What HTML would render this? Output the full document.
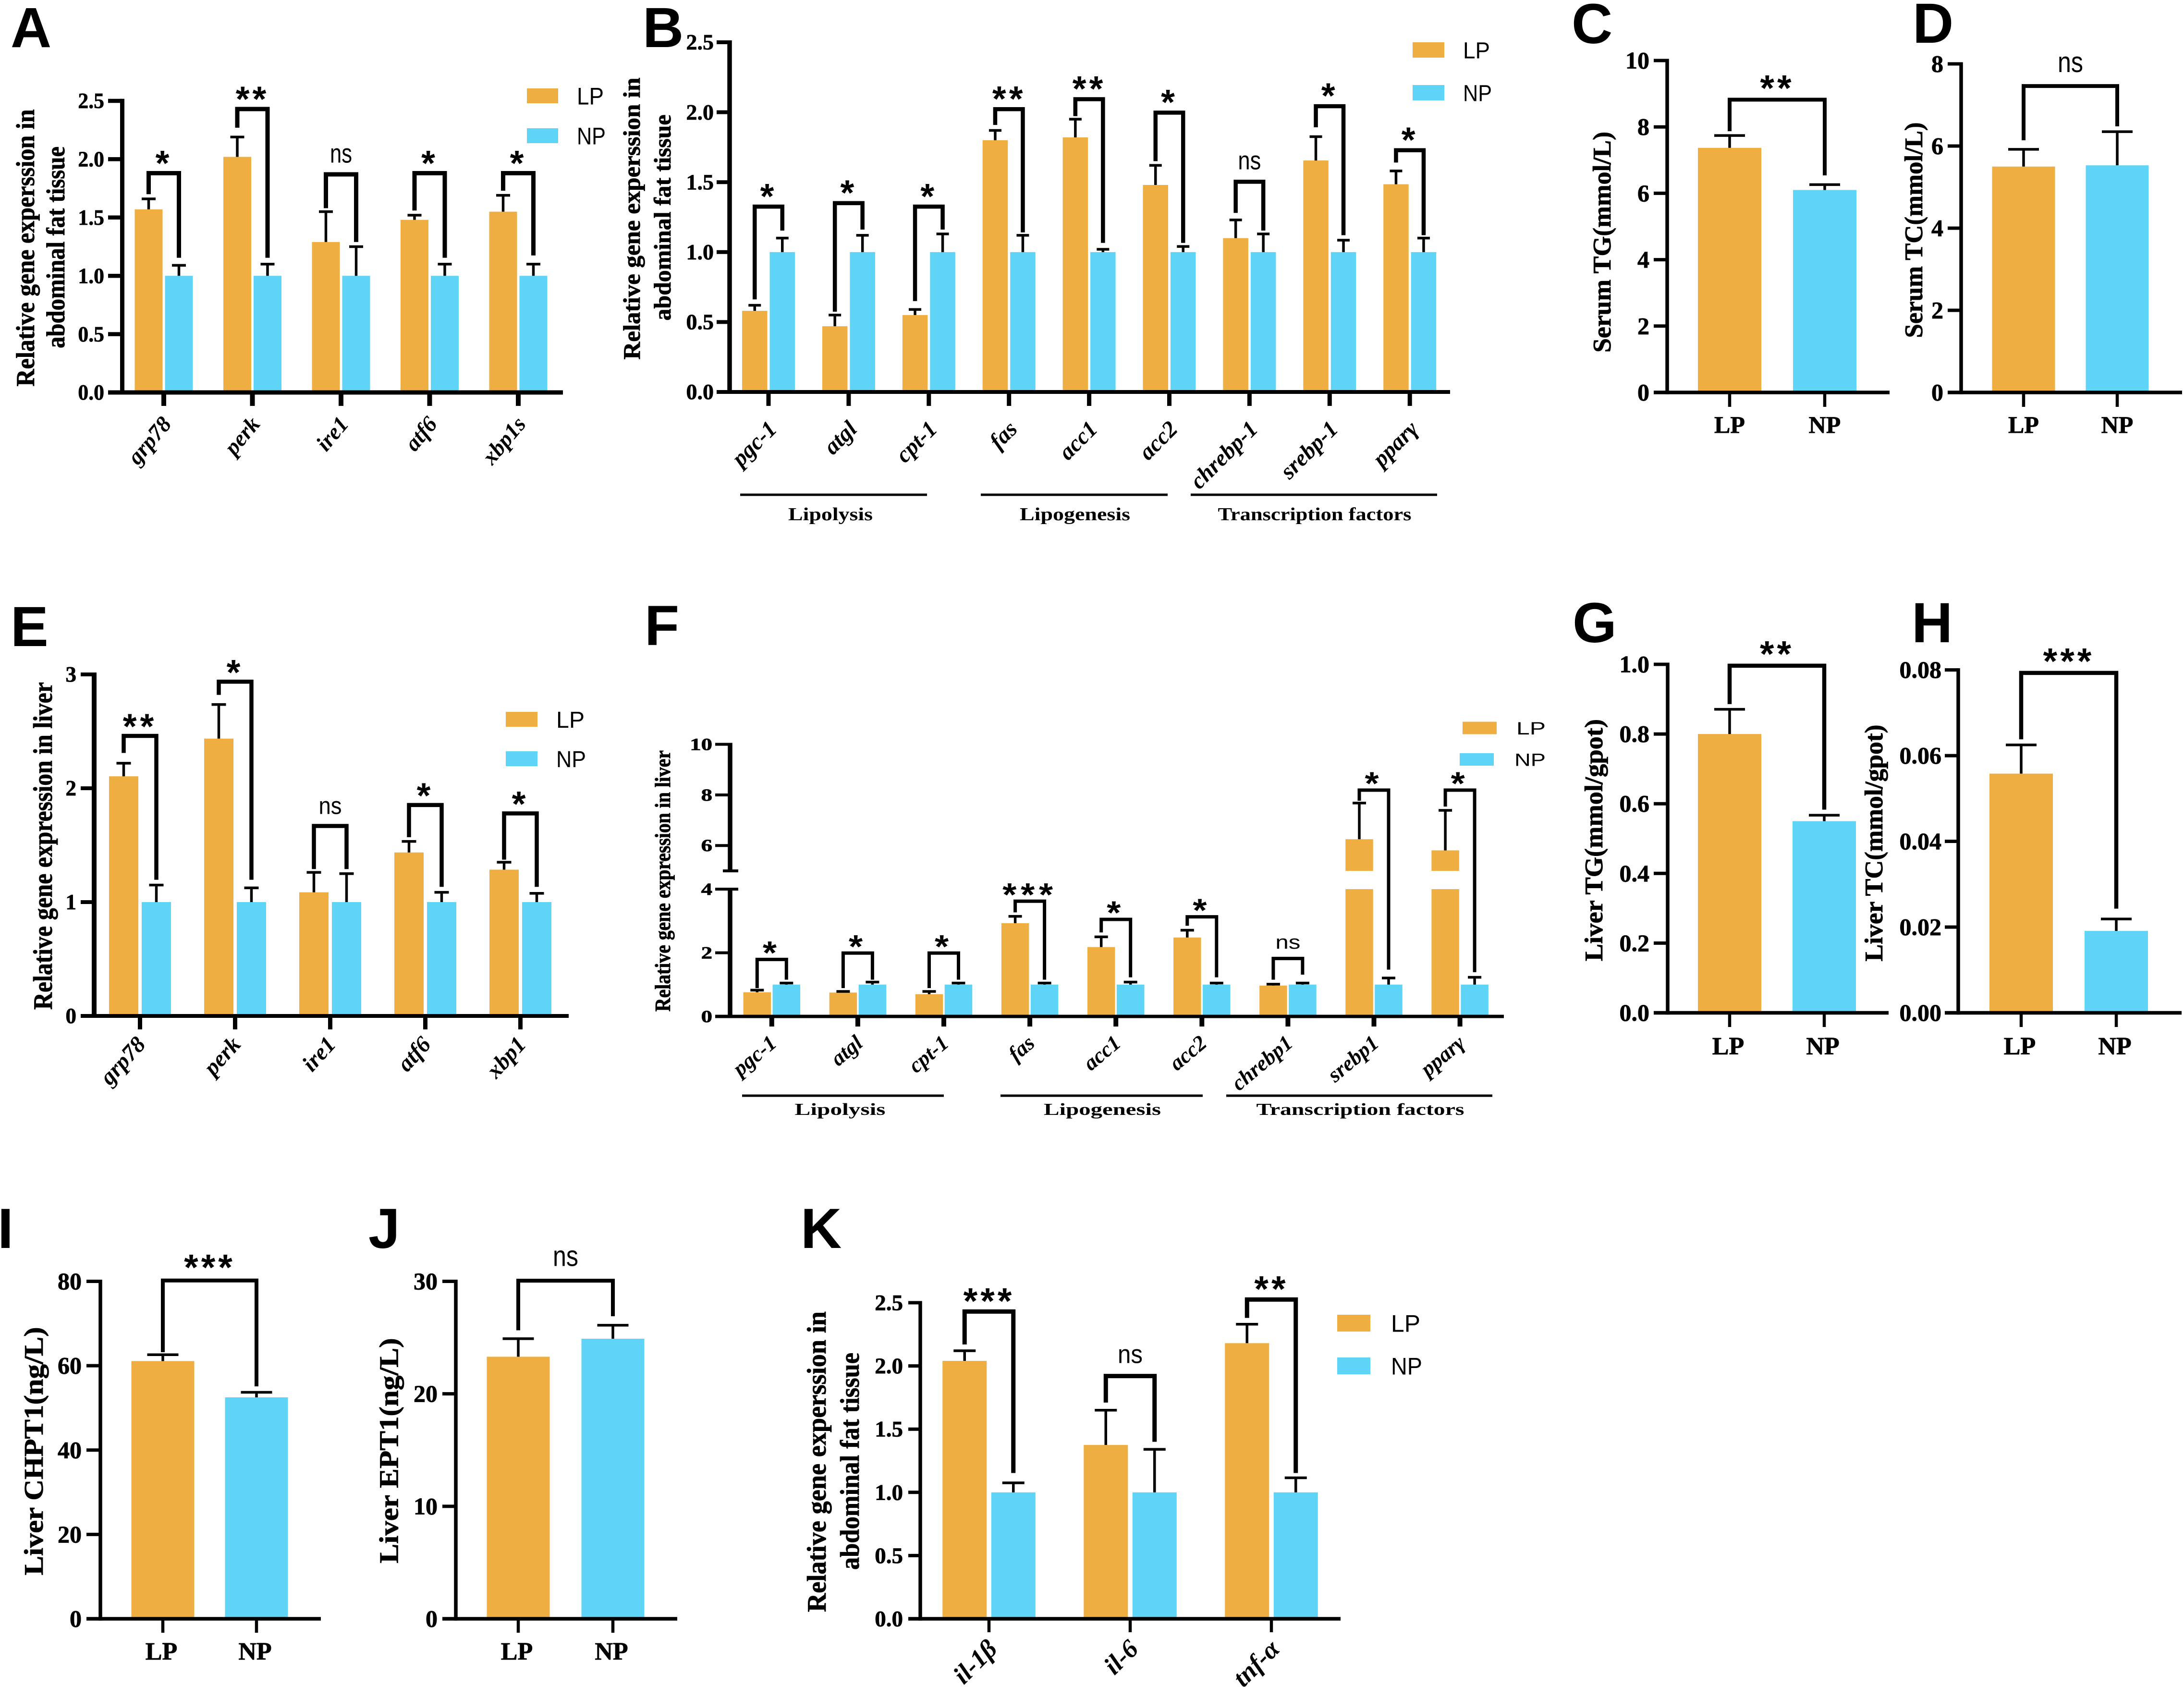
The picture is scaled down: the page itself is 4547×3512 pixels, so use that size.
<!DOCTYPE html>
<html lang="en">
<head>
<meta charset="utf-8">
<title>Gene expression panels A–K</title>
<style>
html,body{margin:0;padding:0;background:#fff;}
svg{display:block;}
</style>
</head>
<body>
<svg id="figure" xmlns="http://www.w3.org/2000/svg" width="4547" height="3512" viewBox="0 0 4547 3512"></svg>
<script>
// ---------- Panel A ----------
const aCategories = ['grp78','perk','ire1','atf6','xbp1s'];
const aLP = [1.57,2.02,1.29,1.48,1.55];
const aLPErr = [0.09,0.17,0.26,0.04,0.14];
const aNP = [1,1,1,1,1];
const aNPErr = [0.09,0.10,0.25,0.10,0.10];
const aSig = ['*','**','ns','*','*'];
const aBracketTop = [1.88,2.43,1.87,1.88,1.88];
const aLegLP = [1.70,2.27,1.58,1.56,1.73];
const aLegNP = [1.155,1.155,1.29,1.155,1.175];
const aTicks = [0,0.5,1,1.5,2,2.5];
const aTickLabels = ['0.0','0.5','1.0','1.5','2.0','2.5'];
// ---------- Panel B ----------
const bCategories = ['pgc-1','atgl','cpt-1','fas','acc1','acc2','chrebp-1','srebp-1','pparγ'];
const bLP = [0.58,0.47,0.55,1.80,1.82,1.48,1.10,1.655,1.485];
const bLPErr = [0.04,0.08,0.04,0.07,0.13,0.14,0.13,0.17,0.095];
const bNP = [1,1,1,1,1,1,1,1,1];
const bNPErr = [0.10,0.12,0.13,0.12,0.02,0.04,0.13,0.085,0.10];
const bSig = ['*','*','*','**','**','*','ns','*','*'];
const bBracketTop = [1.325,1.35,1.325,2.022,2.093,1.997,1.503,2.043,1.728];
const bLegLP = [0.662,0.574,0.65,1.909,1.972,1.65,1.28,1.892,1.64];
const bLegNP = [1.154,1.161,1.161,1.141,1.066,1.066,1.154,1.121,1.121];
const bTicks = [0,0.5,1,1.5,2,2.5];
const bTickLabels = ['0.0','0.5','1.0','1.5','2.0','2.5'];
// ---------- Panel C ----------
const cCategories = ['LP','NP'];
const cLP = [7.37];
const cLPErr = [0.37];
const cNP = [6.1];
const cNPErr = [0.16];
const cSig = ['**'];
const cBracketTop = [8.82];
const cLegLP = [7.87];
const cLegNP = [6.54];
const cTicks = [0,2,4,6,8,10];
const cTickLabels = ['0','2','4','6','8','10'];
// ---------- Panel D ----------
const dCategories = ['LP','NP'];
const dLP = [5.5];
const dLPErr = [0.42];
const dNP = [5.53];
const dNPErr = [0.82];
const dSig = ['ns'];
const dBracketTop = [7.46];
const dLegLP = [6.14];
const dLegNP = [6.48];
const dTicks = [0,2,4,6,8];
const dTickLabels = ['0','2','4','6','8'];
// ---------- Panel E ----------
const eCategories = ['grp78','perk','ire1','atf6','xbp1'];
const eLP = [2.105,2.436,1.086,1.436,1.285];
const eLPErr = [0.115,0.30,0.175,0.097,0.065];
const eNP = [1,1,1,1,1];
const eNPErr = [0.15,0.125,0.25,0.086,0.077];
const eSig = ['**','*','ns','*','*'];
const eBracketTop = [2.46,2.936,1.669,1.853,1.779];
const eLegLP = [2.31,2.82,1.29,1.57,1.373];
const eLegNP = [1.196,1.196,1.29,1.134,1.134];
const eTicks = [0,1,2,3];
const eTickLabels = ['0','1','2','3'];
// ---------- Panel F ----------
const fCategories = ['pgc-1','atgl','cpt-1','fas','acc1','acc2','chrebp1','srebp1','pparγ'];
const fLP = [0.76,0.75,0.70,2.93,2.18,2.48,0.97,6.25,5.81];
const fLPErr = [0.066,0.034,0.084,0.215,0.32,0.23,0.043,1.43,1.58];
const fNP = [1,1,1,1,1,1,1,1,1];
const fNPErr = [0.05,0.08,0.05,0.05,0.08,0.05,0.05,0.207,0.23];
const fSig = ['*','*','*','***','*','*','ns','*','*'];
const fBracketTop = [1.79,1.99,1.99,3.62,3.05,3.13,1.82,8.19,8.19];
const fLegLP = [0.89,0.89,0.89,3.27,2.64,2.85,1.154,7.77,7.54];
const fLegNP = [1.154,1.154,1.154,1.154,1.228,1.228,1.313,1.47,1.39];
const fTicks = [0,2,4,6,8,10];
const fTickLabels = ['0','2','4','6','8','10'];
// ---------- Panel G ----------
const gCategories = ['LP','NP'];
const gLP = [0.80];
const gLPErr = [0.071];
const gNP = [0.55];
const gNPErr = [0.017];
const gSig = ['**'];
const gBracketTop = [0.996];
const gLegLP = [0.886];
const gLegNP = [0.583];
const gTicks = [0,0.2,0.4,0.6,0.8,1];
const gTickLabels = ['0.0','0.2','0.4','0.6','0.8','1.0'];
// ---------- Panel H ----------
const hCategories = ['LP','NP'];
const hLP = [0.0558];
const hLPErr = [0.0067];
const hNP = [0.0191];
const hNPErr = [0.0028];
const hSig = ['***'];
const hBracketTop = [0.0793];
const hLegLP = [0.0638];
const hLegNP = [0.0243];
const hTicks = [0,0.02,0.04,0.06,0.08];
const hTickLabels = ['0.00','0.02','0.04','0.06','0.08'];
// ---------- Panel I ----------
const iCategories = ['LP','NP'];
const iLP = [61.1];
const iLPErr = [1.5];
const iNP = [52.5];
const iNPErr = [1.2];
const iSig = ['***'];
const iBracketTop = [80.2];
const iLegLP = [63.2];
const iLegNP = [55.1];
const iTicks = [0,20,40,60,80];
const iTickLabels = ['0','20','40','60','80'];
// ---------- Panel J ----------
const jCategories = ['LP','NP'];
const jLP = [23.3];
const jLPErr = [1.6];
const jNP = [24.9];
const jNPErr = [1.2];
const jSig = ['ns'];
const jBracketTop = [30.06];
const jLegLP = [25.65];
const jLegNP = [26.9];
const jTicks = [0,10,20,30];
const jTickLabels = ['0','10','20','30'];
// ---------- Panel K ----------
const kCategories = ['il-1β','il-6','tnf-α'];
const kLP = [2.04,1.375,2.18];
const kLPErr = [0.08,0.275,0.15];
const kNP = [1,1,1];
const kNPErr = [0.075,0.34,0.115];
const kSig = ['***','ns','**'];
const kBracketTop = [2.43,1.92,2.525];
const kLegLP = [2.17,1.71,2.38];
const kLegNP = [1.153,1.40,1.153];
const kTicks = [0,0.5,1,1.5,2,2.5];
const kTickLabels = ['0.0','0.5','1.0','1.5','2.0','2.5'];

const ORANGE = '#EFAE41';
const BLUE = '#60D4F6';
const SERIF = '"Liberation Serif", serif';
const SANS = '"Liberation Sans", sans-serif';
const NS = 'http://www.w3.org/2000/svg';
const root = document.getElementById('figure');

function add(parent, tag, attrs, name) {
  const el = document.createElementNS(NS, tag);
  for (const k in attrs) el.setAttribute(k, attrs[k]);
  
  
  parent.appendChild(el);
  return el;
}
function line(p, x1, y1, x2, y2, w, name) {
  return add(p, 'line', {x1, y1, x2, y2, stroke: '#000', 'stroke-width': w}, name);
}
function text(p, str, x, y, o, name) {
  const a = {
    transform: 'translate(' + x + ' ' + y + ')' + (o.rot ? ' rotate(' + o.rot + ')' : '') + (o.sx ? ' scale(' + o.sx + ' 1)' : ''),
    'font-family': o.family || SERIF,
    'font-size': o.size,
    'font-weight': o.weight || 'normal',
    'font-style': o.style || 'normal',
    'text-anchor': o.anchor || 'middle',
    fill: '#000'
  };
  if (o.len) { a.textLength = o.len; a.lengthAdjust = 'spacingAndGlyphs'; }
  if (o.spacing) a['letter-spacing'] = o.spacing;
  if (o.stroke) { a.stroke = '#000'; a['stroke-width'] = o.stroke; }
  const el = add(p, 'text', a, name);
  el.textContent = str;
  return el;
}
function linear(y0, yTop, yMax) {
  return function (v) { return y0 - v * (y0 - yTop) / yMax; };
}
// Panel F has a broken axis: 0-4 on the lower segment, 5-10 on the upper.
function brokenScale(y0, y4, y5, y10) {
  return function (v) {
    if (v <= 4) return y0 - v * (y0 - y4) / 4;
    if (v <= 5) return y5;
    return y5 - (v - 5) * (y5 - y10) / 5;
  };
}

function drawBar(g, L, cx, value, color, name) {
  const left = cx - L.barW / 2;
  if (L.breakLow !== undefined && value > L.breakHigh) {
    add(g, 'rect', {x: left, y: L.y(value), width: L.barW, height: L.y(L.breakHigh) - L.y(value), fill: color}, name + '-upper');
    add(g, 'rect', {x: left, y: L.y(L.breakLow), width: L.barW, height: L.y0 - L.y(L.breakLow), fill: color}, name + '-lower');
  } else {
    add(g, 'rect', {x: left, y: L.y(value), width: L.barW, height: L.y0 - L.y(value), fill: color}, name);
  }
}
function drawError(g, L, cx, value, err, name) {
  const top = L.y(value + err);
  line(g, cx, L.y(value), cx, top, L.errW, name + '-error-stem');
  line(g, cx - L.capW / 2, top, cx + L.capW / 2, top, L.errW, name + '-error-cap');
}

function drawPanel(L, D) {
  const g = add(root, 'g', {}, L.name);
  text(g, L.letter, L.letterX, L.letterY, {family: SANS, weight: 'bold', size: 118, anchor: 'start'}, L.name + '-letter');

  const n = D.lp.length;
  for (let i = 0; i < n; i++) {
    let lpC, npC;
    if (L.simple) {
      lpC = L.firstTick;
      npC = L.firstTick + L.step;
    } else {
      const c = L.firstTick + i * L.step;
      lpC = c - (L.barGap + L.barW) / 2;
      npC = c + (L.barGap + L.barW) / 2;
    }
    const label = L.simple ? '' : '-' + D.categories[i];
    drawBar(g, L, lpC, D.lp[i], ORANGE, 'bar-lp' + label);
    drawBar(g, L, npC, D.np[i], BLUE, 'bar-np' + label);
    drawError(g, L, lpC, D.lp[i], D.lpErr[i], 'lp' + label);
    drawError(g, L, npC, D.np[i], D.npErr[i], 'np' + label);

    const yT = L.y(D.top[i]);
    add(g, 'polyline', {
      points: lpC + ',' + L.y(D.legL[i]) + ' ' + lpC + ',' + yT + ' ' + npC + ',' + yT + ' ' + npC + ',' + L.y(D.legR[i]),
      fill: 'none', stroke: '#000', 'stroke-width': L.brW, 'stroke-linejoin': 'miter'
    }, 'significance-bracket' + label);

    const mid = (lpC + npC) / 2;
    const cy = yT - L.sigOff;
    if (D.sig[i] === 'ns') {
      text(g, 'ns', mid, cy + 0.26 * L.nsSize, {family: SANS, size: L.nsSize, len: L.nsW}, 'significance-label' + label);
    } else {
      text(g, D.sig[i], mid, cy + 0.59 * L.starSize, {family: SANS, weight: 'bold', size: L.starSize, spacing: L.starSpacing, sx: L.starSx}, 'significance-label' + label);
    }
  }

  // axes
  if (L.breakLow !== undefined) {
    const yLo = L.y(L.breakLow), yHi = L.y(L.breakHigh);
    line(g, L.axisX, L.y0 + L.axH / 2, L.axisX, yLo, L.axW, 'y-axis-lower');
    line(g, L.axisX, yHi, L.axisX, L.y(L.yMax) - L.tickW / 2, L.axW, 'y-axis-upper');
    line(g, L.axisX - 15, yLo, L.axisX + 17, yLo, L.tickW, 'y-axis-break-cap-lower');
    line(g, L.axisX - 15, yHi, L.axisX + 17, yHi, L.tickW, 'y-axis-break-cap-upper');
  } else {
    line(g, L.axisX, L.y0 + L.axH / 2, L.axisX, L.y(L.yMax) - L.tickW / 2, L.axW, 'y-axis');
  }
  line(g, L.tickLeft, L.y0, L.xEnd, L.y0, L.axH, 'x-axis');

  D.ticks.forEach(function (t, i) {
    const y = L.y(t);
    if (t !== 0) line(g, L.tickLeft, y, L.axisX, y, L.tickW, 'y-tick');
    text(g, D.tickLabels[i], L.tickRight, y + 0.33 * L.tickSize, {size: L.tickSize, weight: 'bold', anchor: 'end', sx: L.tickSx, stroke: 0.8}, 'y-tick-label');
  });

  const cats = D.categories.length;
  for (let i = 0; i < cats; i++) {
    const x = L.firstTick + i * L.step;
    line(g, x, L.y0, x, L.tickBottom, L.xTickW, 'x-tick');
    if (L.simple) {
      text(g, D.categories[i], x + L.catDx, L.catY, {size: L.catSize, weight: 'bold', stroke: 0.8}, 'x-label-' + D.categories[i]);
    } else {
      text(g, D.categories[i], x + L.catDx, L.catY, {size: L.catSize, weight: 'bold', style: 'italic', anchor: 'end', rot: L.catRot}, 'x-label-' + D.categories[i]);
    }
  }

  // y axis title lines
  L.title.forEach(function (t) {
    text(g, t.text, t.x + 0.3 * L.titleSize, t.cy, {size: L.titleSize, weight: 'bold', rot: -90, len: t.len, stroke: 0.8}, 'y-axis-title');
  });

  // gene-group annotations
  (L.groups || []).forEach(function (t) {
    line(g, t.x1, L.groupY, t.x2, L.groupY, L.groupW, 'group-line-' + t.key);
    text(g, t.text, t.cx, L.groupTextY, {size: L.groupSize, weight: 'bold', len: t.len}, 'group-label-' + t.key);
  });

  // legend
  if (L.legend) {
    const leg = L.legend;
    add(g, 'rect', {x: leg.lpX, y: leg.lpY, width: leg.w, height: leg.h, fill: ORANGE}, 'legend-swatch-lp');
    add(g, 'rect', {x: leg.npX, y: leg.npY, width: leg.w, height: leg.h, fill: BLUE}, 'legend-swatch-np');
    text(g, 'LP', leg.lpTextX, leg.lpY + leg.h / 2 + 0.36 * leg.size, {family: SANS, size: leg.size, anchor: 'start', len: leg.lpLen}, 'legend-label-lp');
    text(g, 'NP', leg.npTextX, leg.npY + leg.h / 2 + 0.36 * leg.size, {family: SANS, size: leg.size, anchor: 'start', len: leg.npLen}, 'legend-label-np');
  }
}

drawPanel({
  name:'panel-a', letter:'A', letterX:22, letterY:98,
  y:linear(817,210,2.5), y0:817, yMax:2.5, axisX:254.5, axW:9, axH:9, tickLeft:225, tickW:8.5, xEnd:1172,
  firstTick:341, step:184.5, barW:58, barGap:5, errW:5.5, capW:29, brW:9, tickBottom:845, xTickW:10,
  sigOff:39, starSize:74, starSpacing:6, nsSize:56, nsW:46,
  tickRight:217, tickSize:46, tickSx:0.95,
  catDx:18, catY:884, catRot:-50, catSize:47,
  titleSize:54, title:[{text:'Relative gene experssion in',x:55,cy:516,len:577},{text:'abdominal fat tissue',x:118,cy:515,len:420}],
  legend:{lpX:1097,npX:1097,lpY:184,npY:267,w:65,h:31,lpTextX:1201,npTextX:1201,size:50,lpLen:56,npLen:60}
},{categories:aCategories,lp:aLP,lpErr:aLPErr,np:aNP,npErr:aNPErr,sig:aSig,top:aBracketTop,legL:aLegLP,legR:aLegNP,ticks:aTicks,tickLabels:aTickLabels});

drawPanel({
  name:'panel-b', letter:'B', letterX:1338, letterY:98,
  y:linear(816,88,2.5), y0:816, yMax:2.5, axisX:1519, axW:9.5, axH:8, tickLeft:1492, tickW:8, xEnd:3019,
  firstTick:1600, step:166.9, barW:52.5, barGap:5, errW:5.5, capW:26, brW:8.5, tickBottom:845, xTickW:9,
  sigOff:40, starSize:74, starSpacing:6, nsSize:54, nsW:48,
  tickRight:1486, tickSize:46, tickSx:1,
  catDx:20, catY:896, catRot:-45, catSize:48,
  titleSize:50, title:[{text:'Relative gene experssion in',x:1317,cy:455,len:587},{text:'abdominal fat tissue',x:1381,cy:453,len:429}],
  groupY:1030, groupW:5, groupTextY:1083, groupSize:38,
  groups:[{key:'lipolysis',text:'Lipolysis',x1:1541,x2:1930,cx:1729,len:176},{key:'lipogenesis',text:'Lipogenesis',x1:2042,x2:2431,cx:2238,len:230},{key:'transcription-factors',text:'Transcription factors',x1:2479,x2:2992,cx:2737,len:403}],
  legend:{lpX:2941,npX:2941,lpY:88,npY:177,w:66,h:32,lpTextX:3046,npTextX:3046,size:48,lpLen:56,npLen:60}
},{categories:bCategories,lp:bLP,lpErr:bLPErr,np:bNP,npErr:bNPErr,sig:bSig,top:bBracketTop,legL:bLegLP,legR:bLegNP,ticks:bTicks,tickLabels:bTickLabels});

drawPanel({
  name:'panel-c', letter:'C', letterX:3272, letterY:90, simple:true,
  y:linear(817,126,10), y0:817, yMax:10, axisX:3471, axW:7.5, axH:7.5, tickLeft:3443, tickW:7, xEnd:3934,
  firstTick:3601, step:198, barW:132, barGap:0, errW:5.5, capW:64, brW:8, tickBottom:847, xTickW:6.5,
  sigOff:43, starSize:76, starSpacing:6, nsSize:60, nsW:53,
  tickRight:3434, tickSize:50, tickSx:1,
  catDx:0, catY:901, catSize:50,
  titleSize:53, title:[{text:'Serum TG(mmol/L)',x:3337,cy:504,len:460}]
},{categories:cCategories,lp:cLP,lpErr:cLPErr,np:cNP,npErr:cNPErr,sig:cSig,top:cBracketTop,legL:cLegLP,legR:cLegNP,ticks:cTicks,tickLabels:cTickLabels});

drawPanel({
  name:'panel-d', letter:'D', letterX:3982, letterY:89, simple:true,
  y:linear(817,133,8), y0:817, yMax:8, axisX:4083, axW:7.5, axH:7.5, tickLeft:4055, tickW:7, xEnd:4543,
  firstTick:4213, step:195, barW:131, barGap:0, errW:5.5, capW:64, brW:8, tickBottom:847, xTickW:6.5,
  sigOff:45, starSize:76, starSpacing:6, nsSize:60, nsW:53,
  tickRight:4046, tickSize:50, tickSx:1,
  catDx:0, catY:901, catSize:50,
  titleSize:53, title:[{text:'Serum TC(mmol/L)',x:3986,cy:479,len:449}]
},{categories:dCategories,lp:dLP,lpErr:dLPErr,np:dNP,npErr:dNPErr,sig:dSig,top:dBracketTop,legL:dLegLP,legR:dLegNP,ticks:dTicks,tickLabels:dTickLabels});

drawPanel({
  name:'panel-e', letter:'E', letterX:22, letterY:1345,
  y:linear(2115,1404,3), y0:2115, yMax:3, axisX:196, axW:10, axH:8, tickLeft:168, tickW:8, xEnd:1184,
  firstTick:291.5, step:198, barW:61, barGap:7, errW:5.5, capW:30, brW:8.5, tickBottom:2143, xTickW:9,
  sigOff:38, starSize:74, starSpacing:7, nsSize:50, nsW:48,
  tickRight:159, tickSize:45, tickSx:1,
  catDx:14, catY:2176, catRot:-48, catSize:48,
  titleSize:56, title:[{text:'Relative gene expression in liver',x:91,cy:1761,len:682}],
  legend:{lpX:1053,npX:1053,lpY:1482,npY:1564,w:66,h:31,lpTextX:1158,npTextX:1158,size:48,lpLen:59,npLen:62}
},{categories:eCategories,lp:eLP,lpErr:eLPErr,np:eNP,npErr:eNPErr,sig:eSig,top:eBracketTop,legL:eLegLP,legR:eLegNP,ticks:eTicks,tickLabels:eTickLabels});

drawPanel({
  name:'panel-f', letter:'F', letterX:1342, letterY:1343,
  y:brokenScale(2116,1851,1813,1549.5), y0:2116, yMax:10, breakLow:4, breakHigh:5,
  axisX:1520, axW:9.5, axH:7, tickLeft:1489, tickW:6, xEnd:3131,
  firstTick:1606.8, step:179.1, barW:57.5, barGap:3.5, errW:5.5, capW:28, brW:7, tickBottom:2137, xTickW:10,
  sigOff:31, starSize:68, starSpacing:8, starSx:1.1, nsSize:40, nsW:52,
  tickRight:1483, tickSize:36, tickSx:1.3,
  catDx:13, catY:2176, catRot:-40, catSize:45,
  titleSize:46, title:[{text:'Relative gene expression in liver',x:1381,cy:1834,len:544}],
  groupY:2281, groupW:5, groupTextY:2321, groupSize:35,
  groups:[{key:'lipolysis',text:'Lipolysis',x1:1545,x2:1965,cx:1749,len:189},{key:'lipogenesis',text:'Lipogenesis',x1:2083,x2:2504,cx:2295,len:244},{key:'transcription-factors',text:'Transcription factors',x1:2553,x2:3107,cx:2832,len:433}],
  legend:{lpX:3045,npX:3039,lpY:1502.5,npY:1568,w:71,h:26,lpTextX:3157,npTextX:3153,size:37,lpLen:61,npLen:65}
},{categories:fCategories,lp:fLP,lpErr:fLPErr,np:fNP,npErr:fNPErr,sig:fSig,top:fBracketTop,legL:fLegLP,legR:fLegNP,ticks:fTicks,tickLabels:fTickLabels});

drawPanel({
  name:'panel-g', letter:'G', letterX:3274, letterY:1337, simple:true,
  y:linear(2108.5,1383,1), y0:2108.5, yMax:1, axisX:3472, axW:7.5, axH:7.5, tickLeft:3443, tickW:7, xEnd:3932,
  firstTick:3601, step:197, barW:132, barGap:0, errW:5.5, capW:64, brW:8.5, tickBottom:2138, xTickW:6.5,
  sigOff:43, starSize:76, starSpacing:6, nsSize:60, nsW:53,
  tickRight:3434, tickSize:50, tickSx:1,
  catDx:-3, catY:2195, catSize:52,
  titleSize:53, title:[{text:'Liver TG(mmol/gpot)',x:3320,cy:1749,len:504}]
},{categories:gCategories,lp:gLP,lpErr:gLPErr,np:gNP,npErr:gNPErr,sig:gSig,top:gBracketTop,legL:gLegLP,legR:gLegNP,ticks:gTicks,tickLabels:gTickLabels});

drawPanel({
  name:'panel-h', letter:'H', letterX:3980, letterY:1337, simple:true,
  y:linear(2108.5,1394.6,0.08), y0:2108.5, yMax:0.08, axisX:4077, axW:7.5, axH:7.5, tickLeft:4049, tickW:7, xEnd:4542,
  firstTick:4208, step:198, barW:132, barGap:0, errW:5.5, capW:64, brW:8.5, tickBottom:2138, xTickW:6.5,
  sigOff:43, starSize:76, starSpacing:6, nsSize:60, nsW:53,
  tickRight:4042, tickSize:50, tickSx:1,
  catDx:-3, catY:2195, catSize:52,
  titleSize:53, title:[{text:'Liver TC(mmol/gpot)',x:3903,cy:1755,len:493}]
},{categories:hCategories,lp:hLP,lpErr:hLPErr,np:hNP,npErr:hNPErr,sig:hSig,top:hBracketTop,legL:hLegLP,legR:hLegNP,ticks:hTicks,tickLabels:hTickLabels});

drawPanel({
  name:'panel-i', letter:'I', letterX:-5, letterY:2598, simple:true,
  y:linear(3370,2667.5,80), y0:3370, yMax:80, axisX:209, axW:7.5, axH:7.5, tickLeft:180, tickW:7, xEnd:668,
  firstTick:339, step:195, barW:131, barGap:0, errW:5.5, capW:65, brW:8, tickBottom:3399, xTickW:6.5,
  sigOff:46, starSize:76, starSpacing:6, nsSize:60, nsW:53,
  tickRight:170, tickSize:50, tickSx:1,
  catDx:-3, catY:3455, catSize:52,
  titleSize:56, title:[{text:'Liver CHPT1(ng/L)',x:72,cy:3021,len:517}]
},{categories:iCategories,lp:iLP,lpErr:iLPErr,np:iNP,npErr:iNPErr,sig:iSig,top:iBracketTop,legL:iLegLP,legR:iLegNP,ticks:iTicks,tickLabels:iTickLabels});

drawPanel({
  name:'panel-j', letter:'J', letterX:767, letterY:2598, simple:true,
  y:linear(3370,2667.5,30), y0:3370, yMax:30, axisX:949, axW:7.5, axH:7.5, tickLeft:921, tickW:7, xEnd:1410,
  firstTick:1079, step:197, barW:131, barGap:0, errW:5.5, capW:65, brW:8, tickBottom:3399, xTickW:6.5,
  sigOff:46, starSize:76, starSpacing:6, nsSize:60, nsW:53,
  tickRight:911, tickSize:50, tickSx:1,
  catDx:-3, catY:3455, catSize:52,
  titleSize:56, title:[{text:'Liver EPT1(ng/L)',x:811.5,cy:3020,len:469}]
},{categories:jCategories,lp:jLP,lpErr:jLPErr,np:jNP,npErr:jNPErr,sig:jSig,top:jBracketTop,legL:jLegLP,legR:jLegNP,ticks:jTicks,tickLabels:jTickLabels});

drawPanel({
  name:'panel-k', letter:'K', letterX:1667, letterY:2598,
  y:linear(3370,2712,2.5), y0:3370, yMax:2.5, axisX:1916, axW:7.5, axH:7.5, tickLeft:1891, tickW:7, xEnd:2791,
  firstTick:2059, step:294, barW:92, barGap:9.5, errW:5.5, capW:46, brW:9, tickBottom:3398, xTickW:6.5,
  sigOff:41, starSize:76, starSpacing:6, nsSize:54, nsW:52,
  tickRight:1880, tickSize:47, tickSx:1,
  catDx:20, catY:3436, catRot:-45, catSize:54,
  titleSize:56, title:[{text:'Relative gene experssion in',x:1702,cy:3043,len:626},{text:'abdominal fat tissue',x:1771,cy:3042,len:452}],
  legend:{lpX:2784,npX:2784,lpY:2737,npY:2826,w:69,h:35,lpTextX:2896,npTextX:2896,size:50,lpLen:61,npLen:65}
},{categories:kCategories,lp:kLP,lpErr:kLPErr,np:kNP,npErr:kNPErr,sig:kSig,top:kBracketTop,legL:kLegLP,legR:kLegNP,ticks:kTicks,tickLabels:kTickLabels});
</script>
</body>
</html>
